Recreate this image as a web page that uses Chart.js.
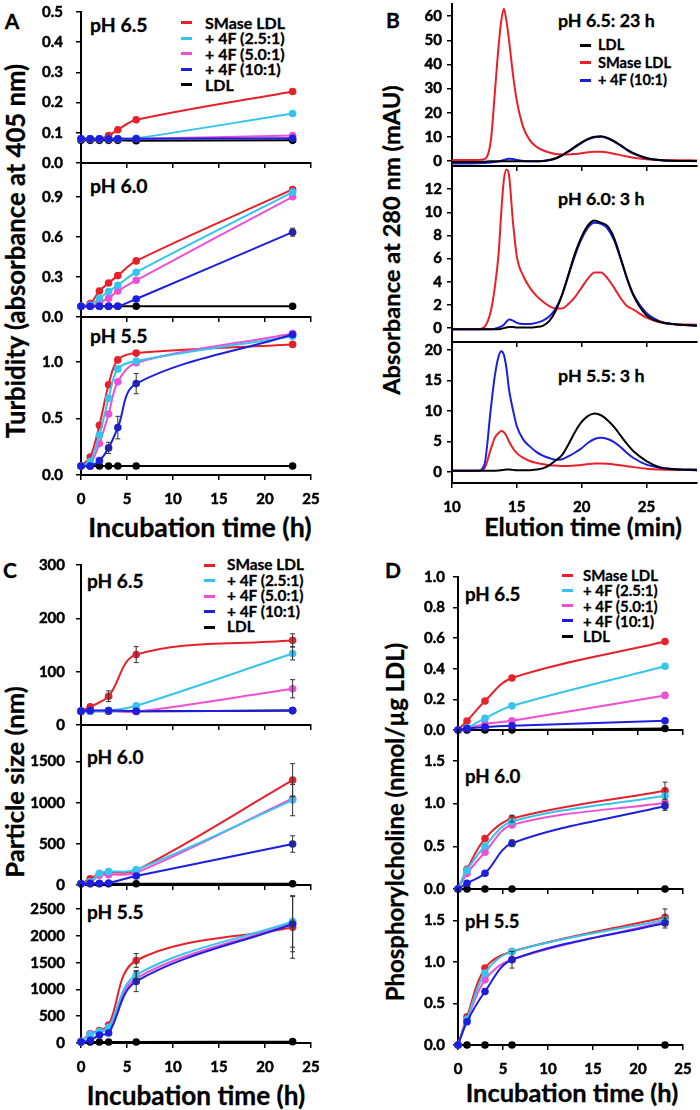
<!DOCTYPE html>
<html>
<head>
<meta charset="utf-8">
<script src="https://cdn.jsdelivr.net/npm/chart.js@4.4.1/dist/chart.umd.min.js"></script>
<style>
body { margin: 0; background: #fff; }
#fig { position: relative; width: 700px; height: 1110px; overflow: hidden;
       font-family: Lato, "DejaVu Sans", sans-serif; font-weight: 700; color: #000; }
#fig canvas { position: absolute; }
.txt { position: absolute; white-space: nowrap; line-height: 1; -webkit-text-stroke: 0.3px #000; }
.sw { position: absolute; height: 3px; }
</style>
</head>
<body>
<div id="fig"></div>
<script>
// === SERIES ===
const NAMES = ['SMase LDL', '+ 4F (2.5:1)', '+ 4F (5.0:1)', '+ 4F (10:1)', 'LDL'];
const COLORS = ['#e8202a', '#34c4ee', '#ef4fd6', '#1c1ee0', '#000000'];
const B_NAMES = ['LDL', 'SMase LDL', '+ 4F (10:1)'];
const B_COLORS = ['#000000', '#e8202a', '#1c1ee0'];

// === TICKS ===
const X_TICKS_H = ['0', '5', '10', '15', '20', '25'];
const X_TICKS_MIN = ['10', '15', '20', '25'];
const A65_YTICKS = ['0.0', '0.1', '0.2', '0.3', '0.4', '0.5'];
const A60_YTICKS = ['0.0', '0.3', '0.6', '0.9'];
const A55_YTICKS = ['0.0', '0.5', '1.0'];
const B65_YTICKS = ['0', '10', '20', '30', '40', '50', '60'];
const B60_YTICKS = ['0', '2', '4', '6', '8', '10', '12'];
const B55_YTICKS = ['0', '5', '10', '15', '20'];
const C65_YTICKS = ['0', '100', '200', '300'];
const C60_YTICKS = ['0', '500', '1000', '1500'];
const C55_YTICKS = ['0', '500', '1000', '1500', '2000', '2500'];
const D65_YTICKS = ['0.0', '0.2', '0.4', '0.6', '0.8', '1.0'];
const D60_YTICKS = ['0.0', '0.5', '1.0', '1.5'];
const D55_YTICKS = ['0.0', '0.5', '1.0', '1.5'];

// === A: TURBIDITY (order: SMase, 2.5:1, 5.0:1, 10:1, LDL) ===
const A_TIME = [0, 1, 2, 3, 4, 6, 23];
const A65 = [
    [0.08, 0.08, 0.08, 0.091, 0.11, 0.143, 0.237],
    [0.08, 0.08, 0.08, 0.08, 0.08, 0.082, 0.164],
    [0.08, 0.08, 0.08, 0.08, 0.08, 0.08, 0.091],
    [0.08, 0.08, 0.08, 0.08, 0.08, 0.08, 0.082],
    [0.075, 0.075, 0.075, 0.075, 0.075, 0.074, 0.075]
];
const A60 = [
    [0.08, 0.10, 0.195, 0.255, 0.31, 0.42, 0.955],
    [0.08, 0.09, 0.14, 0.19, 0.238, 0.335, 0.935],
    [0.08, 0.08, 0.11, 0.14, 0.195, 0.275, 0.90],
    [0.08, 0.08, 0.08, 0.08, 0.08, 0.135, 0.635],
    [0.08, 0.08, 0.08, 0.08, 0.08, 0.08, 0.08]
];
const A60_ERR = [null, null, null, [0, 0, 0, 0, 0, 0, 0.03], null];
const A55 = [
    [0.08, 0.16, 0.44, 0.80, 1.02, 1.08, 1.157],
    [0.08, 0.12, 0.354, 0.68, 0.94, 1.01, 1.23],
    [0.08, 0.10, 0.28, 0.54, 0.826, 0.995, 1.254],
    [0.08, 0.08, 0.127, 0.24, 0.42, 0.81, 1.245],
    [0.08, 0.08, 0.08, 0.08, 0.08, 0.08, 0.08]
];
const A55_ERR = [null, null, null, [0, 0, 0, 0.05, 0.1, 0.09, 0], null];

// === B: SEC (order: LDL, SMase, 10:1) ===
const B_TIME = [10, 11, 12, 12.5, 13, 13.3, 13.6, 13.8, 14, 14.2, 14.4, 14.7, 15, 15.5, 16, 16.5, 17, 17.5,
    18, 18.5, 19, 19.5, 20, 20.5, 21, 21.5, 22, 22.5, 23, 23.5, 24, 25, 26, 27, 28.9];
const B65 = [
    [-0.3, -0.3, -0.3, -0.2, 0, 0, 0, 0, 0, 0, 0, 0, 0, 0, 0, 0, 0.1, 0.5,
        1.2, 2.5, 4.2, 6.0, 7.8, 9.2, 10.1, 10.3, 9.6, 8.3, 6.6, 4.8, 3.3, 1.3, 0.5, 0.2, 0.1],
    [0.5, 0.5, 0.5, 0.8, 8.7, 28, 48, 58, 63, 58, 50, 36, 25, 14, 8.7, 6, 4.5, 3.6,
        3.0, 2.8, 2.8, 3.0, 3.3, 3.7, 3.9, 3.9, 3.6, 3.1, 2.5, 1.9, 1.4, 0.8, 0.5, 0.4, 0.3],
    [-1, -1, -0.9, -0.8, -0.6, -0.4, -0.1, 0.2, 0.5, 0.8, 1.0, 0.9, 0.5, 0.1, 0, 0, 0.1, 0.4,
        1.1, 2.4, 4.0, 5.8, 7.6, 9.0, 9.9, 10.1, 9.4, 8.1, 6.4, 4.6, 3.1, 1.2, 0.4, 0.1, 0]
];
const B60 = [
    [-0.1, -0.1, -0.1, -0.1, -0.1, -0.1, -0.1, -0.05, 0, 0.05, 0.1, 0.1, 0.05, 0.05, 0.05, 0.1, 0.2, 0.6,
        1.5, 2.9, 4.7, 6.5, 7.9, 8.9, 9.3, 9.1, 8.8, 7.8, 6.1, 4.3, 2.8, 1.1, 0.55, 0.35, 0.2],
    [-0.1, -0.1, -0.1, 0.1, 1.5, 3.5, 6.5, 10, 12.8, 13.7, 13.2, 9.2, 6.2, 4.5, 3.5, 2.8, 2.3, 1.9,
        1.7, 1.7, 2.1, 2.7, 3.5, 4.3, 4.8, 4.8, 4.3, 3.5, 2.6, 1.9, 1.6, 0.9, 0.5, 0.35, 0.3],
    [-0.1, -0.1, -0.1, -0.1, -0.1, -0.05, 0.05, 0.15, 0.3, 0.55, 0.75, 0.65, 0.45, 0.35, 0.35, 0.45, 0.65, 1.0,
        1.7, 2.9, 4.6, 6.3, 7.7, 8.7, 9.1, 9.0, 8.6, 7.6, 6.0, 4.3, 2.9, 1.3, 0.6, 0.35, 0.2]
];
const B55 = [
    [0.2, 0.2, 0.2, 0.2, 0.2, 0.2, 0.25, 0.3, 0.35, 0.4, 0.4, 0.35, 0.3, 0.3, 0.3, 0.4, 0.6, 1.1,
        1.9, 2.8, 4.6, 6.6, 8.2, 9.2, 9.6, 9.3, 8.5, 7.4, 6.0, 4.6, 3.4, 1.8, 0.8, 0.5, 0.3],
    [0.2, 0.2, 0.2, 0.6, 3.8, 5.6, 6.4, 6.7, 6.5, 5.9, 5.0, 3.9, 3.1, 2.3, 1.8, 1.5, 1.3, 1.1,
        1.05, 1.0, 1.0, 1.05, 1.15, 1.3, 1.4, 1.4, 1.35, 1.25, 1.1, 0.95, 0.8, 0.55, 0.4, 0.35, 0.3],
    [0.2, 0.2, 0.2, 1.2, 10.5, 15.7, 19, 19.8, 19.2, 17, 13.5, 10.2, 7.5, 5.3, 4.2, 3.3, 2.7, 2.3,
        2.0, 2.1, 2.6, 3.2, 3.9, 4.8, 5.4, 5.6, 5.4, 4.9, 4.1, 3.1, 2.3, 1.2, 0.7, 0.5, 0.4]
];

// === C: PARTICLE SIZE ===
const C65_TIME = [0, 1, 3, 6, 23];
const C65 = [
    [26, 34, 54, 132, 159],
    [26, 26, 27, 36, 134],
    [26, 26, 27, 25, 68],
    [26, 27, 27, 26, 27],
    [26, 26, 26, 26, 27]
];
const C65_ERR = [[0, 0, 10, 15, 12], [0, 0, 0, 0, 12], [0, 0, 0, 0, 17], null, null];
const C_TIME = [0, 1, 2, 3, 6, 23];
const C60 = [
    [15, 75, 130, 150, 178, 1275],
    [15, 40, 142, 162, 185, 1032],
    [15, 28, 120, 125, 150, 1052],
    [15, 20, 22, 25, 109, 498],
    [15, 15, 15, 15, 15, 15]
];
const C60_ERR = [[0, 0, 0, 0, 0, 200], [0, 0, 0, 0, 0, 190], null, [0, 0, 0, 0, 0, 100], null];
const C55 = [
    [30, 170, 233, 335, 1542, 2164],
    [25, 160, 214, 295, 1272, 2270],
    [22, 173, 205, 280, 1210, 2240],
    [20, 50, 150, 186, 1150, 2225],
    [20, 20, 20, 20, 20, 25]
];
const C55_ERR = [[0, 0, 0, 0, 130, 580], [0, 0, 0, 0, 80, 480], null, [0, 0, 0, 0, 190, 520], null];

// === D: PHOSPHORYLCHOLINE ===
const D_TIME = [0, 1, 3, 6, 23];
const D65 = [
    [0, 0.059, 0.19, 0.34, 0.578],
    [0, 0.015, 0.076, 0.158, 0.417],
    [0, 0.01, 0.04, 0.06, 0.226],
    [0, 0.01, 0.02, 0.028, 0.06],
    [0, 0, 0, 0, 0.01]
];
const D60 = [
    [0, 0.23, 0.59, 0.823, 1.15],
    [0, 0.22, 0.503, 0.79, 1.09],
    [0, 0.18, 0.43, 0.75, 1.01],
    [0, 0.067, 0.185, 0.535, 0.97],
    [0, 0, 0, 0, 0]
];
const D60_ERR = [[0, 0, 0, 0.04, 0.1], null, null, [0, 0, 0, 0.04, 0.05], null];
const D55 = [
    [0, 0.34, 0.926, 1.127, 1.54],
    [0, 0.31, 0.866, 1.125, 1.51],
    [0, 0.30, 0.785, 1.03, 1.49],
    [0, 0.28, 0.645, 1.027, 1.47],
    [0, 0, 0, 0, 0]
];
const D55_ERR = [[0, 0, 0, 0, 0.1], null, null, [0, 0, 0, 0.1, 0.06], null];

// === LAYOUT ===
const fig = document.getElementById('fig');
Chart.defaults.font.family = 'Lato, "DejaVu Sans", sans-serif';
Chart.defaults.font.weight = 'bold';
Chart.defaults.color = '#000';

// box = [left, right, top, bottom] of the plot area in page pixels
const SUBPLOTS = [
    { box: [81, 311, 12, 163], x: [0, 25], y: [0, 0.5], yt: A65_YTICKS, xt: X_TICKS_H, lab: false, t: A_TIME, s: A65, pad: 13 },
    { box: [81, 311, 163, 316.7], x: [0, 25], y: [0, 1.153], yt: A60_YTICKS, xt: X_TICKS_H, lab: false, t: A_TIME, s: A60, e: A60_ERR, pad: 13 },
    { box: [81, 311, 316.7, 475], x: [0, 25], y: [0, 1.40], yt: A55_YTICKS, xt: X_TICKS_H, lab: true, t: A_TIME, s: A55, e: A55_ERR, pad: 13 },
    { box: [452, 697, 4, 166], x: [10, 28.9], y: [-2, 65], yt: B65_YTICKS, xt: X_TICKS_MIN, lab: false, t: B_TIME, s: B65, sec: true, pad: 5 },
    { box: [452, 697, 166, 342.3], x: [10, 28.9], y: [-1.2, 14], yt: B60_YTICKS, xt: X_TICKS_MIN, lab: false, t: B_TIME, s: B60, sec: true, pad: 5 },
    { box: [452, 697, 342.3, 483.3], x: [10, 28.9], y: [-1.8, 21.3], yt: B55_YTICKS, xt: X_TICKS_MIN, lab: true, t: B_TIME, s: B55, sec: true, pad: 5 },
    { box: [81, 311, 565, 724.7], x: [0, 25], y: [0, 300], yt: C65_YTICKS, xt: X_TICKS_H, lab: false, t: C65_TIME, s: C65, e: C65_ERR, pad: 11 },
    { box: [81, 311, 724.7, 885], x: [0, 25], y: [0, 1945], yt: C60_YTICKS, xt: X_TICKS_H, lab: false, t: C_TIME, s: C60, e: C60_ERR, pad: 11 },
    { box: [81, 311, 885, 1043.3], x: [0, 25], y: [0, 2953], yt: C55_YTICKS, xt: X_TICKS_H, lab: true, t: C_TIME, s: C55, e: C55_ERR, pad: 11 },
    { box: [458, 683, 576.7, 730], x: [0, 25], y: [0, 1.0], yt: D65_YTICKS, xt: X_TICKS_H, lab: false, t: D_TIME, s: D65, pad: 8 },
    { box: [458, 683, 730, 889], x: [0, 25], y: [0, 1.86], yt: D60_YTICKS, xt: X_TICKS_H, lab: false, t: D_TIME, s: D60, e: D60_ERR, pad: 8 },
    { box: [458, 683, 889, 1045], x: [0, 25], y: [0, 1.88], yt: D55_YTICKS, xt: X_TICKS_H, lab: true, t: D_TIME, s: D55, e: D55_ERR, pad: 8 }
];

// error bars drawn from dataset.errors
const errorBars = {
    id: 'errorBars',
    afterDatasetsDraw(chart) {
        const ctx = chart.ctx;
        const ys = chart.scales.y;
        chart.data.datasets.forEach((ds, i) => {
            if (!ds.errors) return;
            const meta = chart.getDatasetMeta(i);
            ds.errors.forEach((e, j) => {
                if (!e) return;
                const pt = meta.data[j];
                const v = ds.data[j].y;
                const y1 = ys.getPixelForValue(v + e);
                const y2 = ys.getPixelForValue(v - e);
                ctx.save();
                ctx.strokeStyle = '#333';
                ctx.lineWidth = 1;
                ctx.beginPath();
                ctx.moveTo(pt.x, y1); ctx.lineTo(pt.x, y2);
                ctx.moveTo(pt.x - 2.5, y1); ctx.lineTo(pt.x + 2.5, y1);
                ctx.moveTo(pt.x - 2.5, y2); ctx.lineTo(pt.x + 2.5, y2);
                ctx.stroke();
                ctx.restore();
            });
        });
    }
};

const PADL = 70, PADT = 14, PADR = 16, PADB = 34;

// no label padding: the plot area must sit exactly on its box
function noPadding(ax) {
    ax.paddingLeft = 0;
    ax.paddingRight = 0;
    ax.paddingTop = 0;
    ax.paddingBottom = 0;
}

function makeChart(sp) {
    const [l, r, t, b] = sp.box;
    const cv = document.createElement('canvas');
    cv.width = Math.round(r - l + PADL + PADR);
    cv.height = Math.round(b - t + PADT + PADB);
    cv.style.left = (l - PADL) + 'px';
    cv.style.top = (t - PADT) + 'px';
    fig.appendChild(cv);

    const names = sp.sec ? B_NAMES : NAMES;
    const colors = sp.sec ? B_COLORS : COLORS;
    const drawOrder = sp.sec ? [0, 2, 1] : [3, 1, 2, 0, 4];
    const yVals = sp.yt.map(Number);
    const xVals = sp.xt.map(Number);

    const datasets = sp.s.map((vals, i) => ({
        label: names[i],
        data: vals.map((v, j) => ({ x: sp.t[j], y: v })),
        errors: sp.e ? sp.e[i] : null,
        borderColor: colors[i],
        backgroundColor: colors[i],
        borderWidth: 2,
        pointRadius: sp.sec ? 0 : 3.8,
        pointBorderWidth: 0,
        pointBackgroundColor: colors[i],
        tension: sp.sec ? 0.4 : 0.35,
        cubicInterpolationMode: sp.sec ? 'monotone' : 'default',
        order: drawOrder[i],
        clip: false
    }));

    new Chart(cv, {
        type: 'line',
        data: { datasets },
        options: {
            responsive: false,
            animation: false,
            events: [],
            layout: { autoPadding: false, padding: { left: 0, top: PADT, right: PADR, bottom: 0 } },
            plugins: { legend: { display: false }, tooltip: { enabled: false } },
            scales: {
                x: {
                    type: 'linear',
                    min: sp.x[0],
                    max: sp.x[1],
                    afterBuildTicks: ax => { ax.ticks = xVals.map(v => ({ value: v })); },
                    afterFit: ax => { ax.height = PADB; noPadding(ax); },
                    ticks: {
                        display: sp.lab,
                        padding: 10,
                        maxRotation: 0,
                        font: { size: 15, weight: 'bold' },
                        textStrokeColor: '#000',
                        textStrokeWidth: 0.5,
                        callback: v => sp.xt[xVals.indexOf(v)]
                    },
                    grid: { drawOnChartArea: false, drawTicks: true, tickLength: 5, color: '#000', lineWidth: 1.5 },
                    border: { color: '#000', width: 2 }
                },
                y: {
                    type: 'linear',
                    min: sp.y[0],
                    max: sp.y[1],
                    afterBuildTicks: ax => { ax.ticks = yVals.map(v => ({ value: v })); },
                    afterFit: ax => { ax.width = PADL; noPadding(ax); },
                    ticks: {
                        padding: sp.pad,
                        font: { size: 15, weight: 'bold' },
                        textStrokeColor: '#000',
                        textStrokeWidth: 0.5,
                        callback: v => sp.yt[yVals.indexOf(v)]
                    },
                    grid: { drawOnChartArea: false, drawTicks: true, tickLength: 5, color: '#000', lineWidth: 1.5 },
                    border: { color: '#000', width: 2 }
                }
            }
        },
        plugins: [errorBars]
    });
}

// === TEXT ===
// width: if given, the font size is scaled so the text spans that many pixels
function addText(str, x, y, size, mode, width) {
    const d = document.createElement('div');
    d.className = 'txt';
    d.textContent = str;
    d.style.left = x + 'px';
    d.style.top = y + 'px';
    d.style.fontSize = size + 'px';
    if (mode === 'center') d.style.transform = 'translate(-50%, -50%)';
    else if (mode === 'rot') d.style.transform = 'translate(-50%, -50%) rotate(-90deg)';
    else d.style.transform = 'translateY(-50%)';
    fig.appendChild(d);
    if (width) {
        size = size * width / d.offsetWidth;
        d.style.fontSize = size.toFixed(2) + 'px';
    }
    return size;
}

function addLegend(names, colors, swX, swW, textX, y0, dy, firstWidth) {
    let size = 15;
    names.forEach((n, i) => {
        const y = y0 + i * dy;
        const sw = document.createElement('div');
        sw.className = 'sw';
        sw.style.left = swX + 'px';
        sw.style.top = (y - 1.5) + 'px';
        sw.style.width = swW + 'px';
        sw.style.background = colors[i];
        fig.appendChild(sw);
        if (n === 'SMase LDL') size = addText(n, textX, y, size, null, firstWidth);
    });
    names.forEach((n, i) => {
        if (n !== 'SMase LDL') addText(n, textX, y0 + i * dy, size);
    });
}

// panel letters
addText('A', 12, 20, 21, 'center');
addText('B', 393, 19, 21, 'center');
addText('C', 10, 569, 21, 'center');
addText('D', 393, 569, 21, 'center');

// axis titles (span widths)
addText('Turbidity (absorbance at 405 nm)', 16, 251, 22, 'rot', 375);
addText('Incubation time (h)', 200, 527, 22, 'center', 224);
addText('Absorbance at 280 nm (mAU)', 392, 240, 22, 'rot', 310);
addText('Elution time (min)', 583, 527, 22, 'center', 198);
addText('Particle size (nm)', 15, 782, 22, 'rot', 192);
addText('Incubation time (h)', 196, 1095, 22, 'center', 219);
addText('Phosphorylcholine (nmol/µg LDL)', 395, 822, 22, 'rot', 359);
addText('Incubation time (h)', 572, 1093, 22, 'center', 213);

// subplot labels
const PH = 16;
addText('pH 6.5', 90, 25, PH, null, 57);
addText('pH 6.0', 90, 186, PH, null, 57);
addText('pH 5.5', 90, 336, PH, null, 57);
addText('pH 6.5: 23 h', 558, 21, PH, null, 97);
addText('pH 6.0: 3 h', 558, 199, PH, null, 87);
addText('pH 5.5: 3 h', 558, 376, PH, null, 87);
addText('pH 6.5', 87, 581, PH, null, 56);
addText('pH 6.0', 87, 757, PH, null, 56);
addText('pH 5.5', 87, 912, PH, null, 56);
addText('pH 6.5', 465, 594, PH, null, 55);
addText('pH 6.0', 465, 776, PH, null, 55);
addText('pH 5.5', 465, 921, PH, null, 54);

// legends
addLegend(NAMES, COLORS, 181, 11, 205, 22.5, 15.6, 80);
addLegend(B_NAMES, B_COLORS, 580, 11, 598, 45, 17.5, 73);
addLegend(NAMES, COLORS, 204, 11, 227, 565, 15.6, 77);
addLegend(NAMES, COLORS, 562, 11, 583, 575, 15.3, 75);

SUBPLOTS.forEach(makeChart);
</script>
</body>
</html>
